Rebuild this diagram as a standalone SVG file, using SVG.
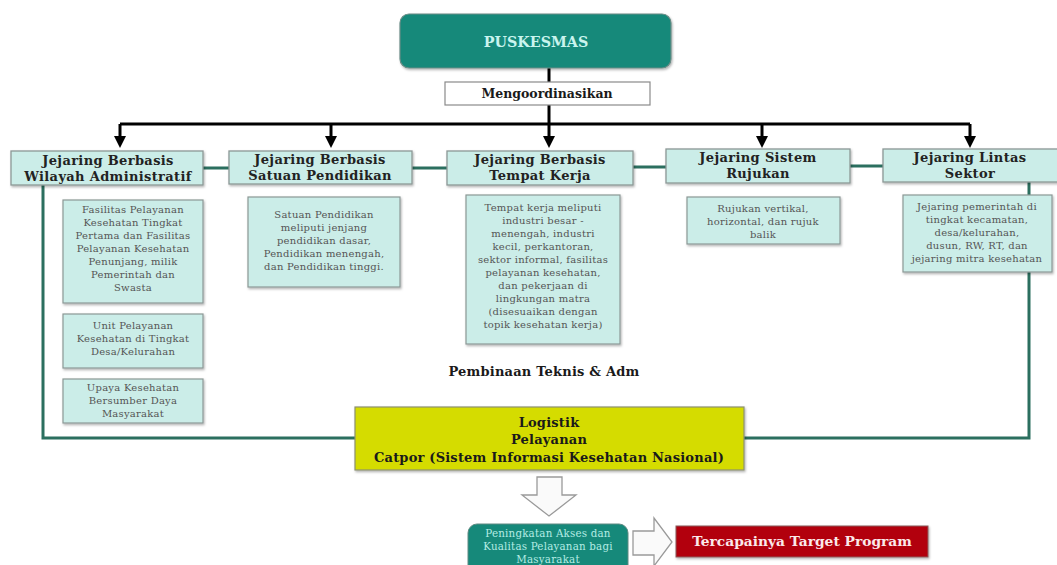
<svg xmlns="http://www.w3.org/2000/svg" width="1057" height="565" viewBox="0 0 1057 565">
<style>
.hdr{fill:#cbede8;stroke:#8c9896;stroke-width:1.3}
.det{fill:#cbede8;stroke:#8c9896;stroke-width:1.2}
.ht{font-family:"DejaVu Serif",serif;font-weight:bold;font-size:13px;letter-spacing:0.35px;fill:#222;text-anchor:middle}
.dt{font-family:"DejaVu Serif",serif;font-size:10px;letter-spacing:0.25px;fill:#555;text-anchor:middle}
.blk{stroke:#000;stroke-width:3;fill:none}
.grn{stroke:#2b6f5f;stroke-width:3;fill:none}
.bt{font-family:"DejaVu Serif",serif;font-weight:bold;font-size:13px;letter-spacing:0.2px;fill:#1a1a1a;text-anchor:middle}
.pt{font-family:"DejaVu Serif",serif;font-size:10.3px;letter-spacing:0.2px;fill:#b4ece4;text-anchor:middle}
</style>
<defs>
<marker id="ah" markerWidth="4" markerHeight="4" refX="2" refY="2" orient="auto" markerUnits="strokeWidth">
<path d="M0,0 L4,2 L0,4 Z" fill="#000"/>
</marker>
<filter id="sh" x="-5%" y="-5%" width="115%" height="125%">
<feDropShadow dx="1" dy="1.5" stdDeviation="1" flood-color="#000" flood-opacity="0.3"/>
</filter>
</defs>

<g id="connectors">
<path class="blk" d="M549,68 V124"/>
<path class="blk" d="M120,124 H970"/>
<path class="blk" d="M120,124 V142" marker-end="url(#ah)"/>
<path class="blk" d="M331,124 V142" marker-end="url(#ah)"/>
<path class="blk" d="M549,124 V142" marker-end="url(#ah)"/>
<path class="blk" d="M762,124 V142" marker-end="url(#ah)"/>
<path class="blk" d="M970,124 V142" marker-end="url(#ah)"/>
<path class="grn" d="M203,168 H229 M411,168 H447 M633,167 H666 M850,166 H883"/>
<path class="grn" d="M43,185 V438 H355"/>
<path class="grn" d="M1029,182 V195 M1029,272 V438 H744"/>
</g>

<g id="puskesmas">
<rect x="400" y="14" width="271" height="54" rx="9" fill="#16897a" stroke="#6a8c86" stroke-width="1.2" filter="url(#sh)"/>
<text x="536" y="47" font-family="DejaVu Serif,serif" font-weight="bold" font-size="14.3px" fill="#c9f4ee" text-anchor="middle">PUSKESMAS</text>
</g>

<g id="mengoordinasikan">
<rect x="445" y="82" width="205" height="23" fill="#fff" stroke="#8a8a8a" stroke-width="1.2"/>
<text x="547" y="98" font-family="DejaVu Serif,serif" font-weight="bold" font-size="12.5px" fill="#1a1a1a" text-anchor="middle">Mengoordinasikan</text>
</g>

<g id="h1">
<rect class="hdr" x="11" y="151" width="192" height="34" filter="url(#sh)"/>
<text class="ht" x="108" y="165">Jejaring Berbasis</text>
<text class="ht" x="108" y="181">Wilayah Administratif</text>
</g>
<g id="h2">
<rect class="hdr" x="229" y="151" width="183" height="33" filter="url(#sh)"/>
<text class="ht" x="320" y="164">Jejaring Berbasis</text>
<text class="ht" x="320" y="180">Satuan Pendidikan</text>
</g>
<g id="h3">
<rect class="hdr" x="447" y="151" width="186" height="34" filter="url(#sh)"/>
<text class="ht" x="540" y="164">Jejaring Berbasis</text>
<text class="ht" x="540" y="180">Tempat Kerja</text>
</g>
<g id="h4">
<rect class="hdr" x="666" y="149" width="184" height="34" filter="url(#sh)"/>
<text class="ht" x="758" y="162">Jejaring Sistem</text>
<text class="ht" x="758" y="178">Rujukan</text>
</g>
<g id="h5">
<rect class="hdr" x="883" y="149" width="178" height="33" filter="url(#sh)"/>
<text class="ht" x="970" y="162">Jejaring Lintas</text>
<text class="ht" x="970" y="178">Sektor</text>
</g>

<g id="d1a">
<rect class="det" x="63" y="200" width="140" height="103" filter="url(#sh)"/>
<text class="dt" x="133" y="213">Fasilitas Pelayanan</text>
<text class="dt" x="133" y="226">Kesehatan Tingkat</text>
<text class="dt" x="133" y="239">Pertama dan Fasilitas</text>
<text class="dt" x="133" y="252">Pelayanan Kesehatan</text>
<text class="dt" x="133" y="265">Penunjang, milik</text>
<text class="dt" x="133" y="278">Pemerintah dan</text>
<text class="dt" x="133" y="291">Swasta</text>
</g>
<g id="d1b">
<rect class="det" x="63" y="314" width="140" height="54" filter="url(#sh)"/>
<text class="dt" x="133" y="329">Unit Pelayanan</text>
<text class="dt" x="133" y="342">Kesehatan di Tingkat</text>
<text class="dt" x="133" y="355">Desa/Kelurahan</text>
</g>
<g id="d1c">
<rect class="det" x="63" y="379" width="140" height="44" filter="url(#sh)"/>
<text class="dt" x="133" y="391">Upaya Kesehatan</text>
<text class="dt" x="133" y="404">Bersumber Daya</text>
<text class="dt" x="133" y="417">Masyarakat</text>
</g>
<g id="d2">
<rect class="det" x="248" y="197" width="152" height="90" filter="url(#sh)"/>
<text class="dt" x="324" y="218">Satuan Pendidikan</text>
<text class="dt" x="324" y="231">meliputi jenjang</text>
<text class="dt" x="324" y="244">pendidikan dasar,</text>
<text class="dt" x="324" y="257">Pendidikan menengah,</text>
<text class="dt" x="324" y="270">dan Pendidikan tinggi.</text>
</g>
<g id="d3">
<rect class="det" x="466" y="195" width="154" height="149" filter="url(#sh)"/>
<text class="dt" x="543" y="211">Tempat kerja meliputi</text>
<text class="dt" x="543" y="224">industri besar -</text>
<text class="dt" x="543" y="237">menengah, industri</text>
<text class="dt" x="543" y="250">kecil, perkantoran,</text>
<text class="dt" x="543" y="263">sektor informal, fasilitas</text>
<text class="dt" x="543" y="276">pelayanan kesehatan,</text>
<text class="dt" x="543" y="289">dan pekerjaan di</text>
<text class="dt" x="543" y="302">lingkungan matra</text>
<text class="dt" x="543" y="315">(disesuaikan dengan</text>
<text class="dt" x="543" y="328">topik kesehatan kerja)</text>
</g>
<g id="d4">
<rect class="det" x="687" y="197" width="153" height="47" filter="url(#sh)"/>
<text class="dt" x="763" y="212">Rujukan vertikal,</text>
<text class="dt" x="763" y="225">horizontal, dan rujuk</text>
<text class="dt" x="763" y="238">balik</text>
</g>
<g id="d5">
<rect class="det" x="903" y="195" width="149" height="77" filter="url(#sh)"/>
<text class="dt" x="977" y="210">Jejaring pemerintah di</text>
<text class="dt" x="977" y="223">tingkat kecamatan,</text>
<text class="dt" x="977" y="236">desa/kelurahan,</text>
<text class="dt" x="977" y="249">dusun, RW, RT, dan</text>
<text class="dt" x="977" y="262">jejaring mitra kesehatan</text>
</g>

<g id="pembinaan">
<text class="bt" x="544" y="376">Pembinaan Teknis &amp; Adm</text>
</g>

<g id="logistik">
<rect x="355" y="407" width="389" height="63" fill="#d5dc00" stroke="#8d9170" stroke-width="1.2" filter="url(#sh)"/>
<text class="bt" x="549" y="427">Logistik</text>
<text class="bt" x="549" y="444">Pelayanan</text>
<text class="bt" x="549" y="462">Catpor (Sistem Informasi Kesehatan Nasional)</text>
</g>

<g id="arrow-down">
<path d="M537,477 H562 V495 H576 L549,516 L522,495 H537 Z" fill="#fafafa" stroke="#9a9a9a" stroke-width="1.3"/>
</g>

<g id="peningkatan">
<rect x="468" y="524" width="160" height="50" rx="9" fill="#16897a" stroke="#5f8a82" stroke-width="1"/>
<text class="pt" x="548" y="537">Peningkatan Akses dan</text>
<text class="pt" x="548" y="550">Kualitas Pelayanan bagi</text>
<text class="pt" x="548" y="563">Masyarakat</text>
</g>

<g id="arrow-right">
<path d="M633,531 H654 V518 L672,542 L654,566 V555 H633 Z" fill="#fafafa" stroke="#9a9a9a" stroke-width="1.3"/>
</g>

<g id="target">
<rect x="676" y="526" width="252" height="31" fill="#b2000f" stroke="#8a5a5a" stroke-width="1" filter="url(#sh)"/>
<text x="802" y="546" font-family="DejaVu Serif,serif" font-weight="bold" font-size="13.8px" fill="#fbe9ea" text-anchor="middle">Tercapainya Target Program</text>
</g>
</svg>
